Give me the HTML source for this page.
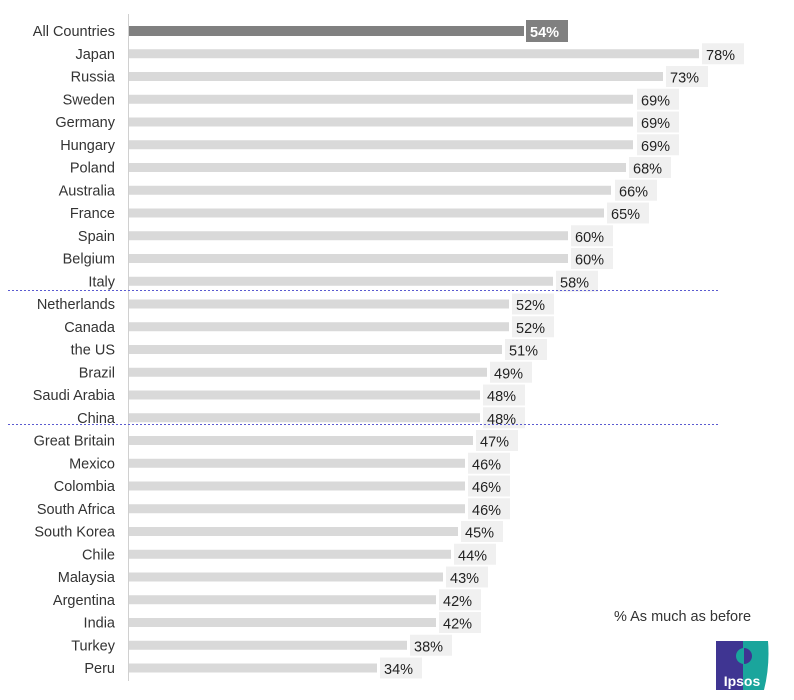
<!DOCTYPE html>
<html><head><meta charset="utf-8"><style>
html,body{margin:0;padding:0;background:#fff;}
svg{display:block;font-family:"Liberation Sans",Arial,sans-serif;}
.l{font-size:14.5px;fill:#333;text-anchor:end}
.v{font-size:14.5px;fill:#222}
.b{fill:#d9d9d9}
.bx{fill:#f0f0f0}
</style></head><body>
<svg width="794" height="700" viewBox="0 0 794 700">
<line x1="128.5" y1="14" x2="128.5" y2="681" stroke="#d0d0d0" stroke-width="1"/>
<g>
<!-- row helper: translate(0,c) -->
<g transform="translate(0,31)"><text class="l" x="115" y="5">All Countries</text><rect x="129" y="-5" width="395" height="10" fill="#808080"/><rect x="526" y="-11" width="42" height="22" fill="#808080"/><text x="530" y="6" style="font-size:14.5px;fill:#fff;font-weight:bold">54%</text></g>
<g transform="translate(0,53.75)"><text class="l" x="115" y="5">Japan</text><rect class="b" x="129" y="-4.5" width="570" height="9"/><rect class="bx" x="702" y="-10.5" width="42" height="21"/><text class="v" x="706" y="6">78%</text></g>
<g transform="translate(0,76.5)"><text class="l" x="115" y="5">Russia</text><rect class="b" x="129" y="-4.5" width="534" height="9"/><rect class="bx" x="666" y="-10.5" width="42" height="21"/><text class="v" x="670" y="6">73%</text></g>
<g transform="translate(0,99.25)"><text class="l" x="115" y="5">Sweden</text><rect class="b" x="129" y="-4.5" width="504" height="9"/><rect class="bx" x="637" y="-10.5" width="42" height="21"/><text class="v" x="641" y="6">69%</text></g>
<g transform="translate(0,122)"><text class="l" x="115" y="5">Germany</text><rect class="b" x="129" y="-4.5" width="504" height="9"/><rect class="bx" x="637" y="-10.5" width="42" height="21"/><text class="v" x="641" y="6">69%</text></g>
<g transform="translate(0,144.75)"><text class="l" x="115" y="5">Hungary</text><rect class="b" x="129" y="-4.5" width="504" height="9"/><rect class="bx" x="637" y="-10.5" width="42" height="21"/><text class="v" x="641" y="6">69%</text></g>
<g transform="translate(0,167.5)"><text class="l" x="115" y="5">Poland</text><rect class="b" x="129" y="-4.5" width="497" height="9"/><rect class="bx" x="629" y="-10.5" width="42" height="21"/><text class="v" x="633" y="6">68%</text></g>
<g transform="translate(0,190.25)"><text class="l" x="115" y="5">Australia</text><rect class="b" x="129" y="-4.5" width="482" height="9"/><rect class="bx" x="615" y="-10.5" width="42" height="21"/><text class="v" x="619" y="6">66%</text></g>
<g transform="translate(0,213)"><text class="l" x="115" y="5">France</text><rect class="b" x="129" y="-4.5" width="475" height="9"/><rect class="bx" x="607" y="-10.5" width="42" height="21"/><text class="v" x="611" y="6">65%</text></g>
<g transform="translate(0,235.75)"><text class="l" x="115" y="5">Spain</text><rect class="b" x="129" y="-4.5" width="439" height="9"/><rect class="bx" x="571" y="-10.5" width="42" height="21"/><text class="v" x="575" y="6">60%</text></g>
<g transform="translate(0,258.5)"><text class="l" x="115" y="5">Belgium</text><rect class="b" x="129" y="-4.5" width="439" height="9"/><rect class="bx" x="571" y="-10.5" width="42" height="21"/><text class="v" x="575" y="6">60%</text></g>
<g transform="translate(0,281.25)"><text class="l" x="115" y="5">Italy</text><rect class="b" x="129" y="-4.5" width="424" height="9"/><rect class="bx" x="556" y="-10.5" width="42" height="21"/><text class="v" x="560" y="6">58%</text></g>
<g transform="translate(0,304)"><text class="l" x="115" y="5">Netherlands</text><rect class="b" x="129" y="-4.5" width="380" height="9"/><rect class="bx" x="512" y="-10.5" width="42" height="21"/><text class="v" x="516" y="6">52%</text></g>
<g transform="translate(0,326.75)"><text class="l" x="115" y="5">Canada</text><rect class="b" x="129" y="-4.5" width="380" height="9"/><rect class="bx" x="512" y="-10.5" width="42" height="21"/><text class="v" x="516" y="6">52%</text></g>
<g transform="translate(0,349.5)"><text class="l" x="115" y="5">the US</text><rect class="b" x="129" y="-4.5" width="373" height="9"/><rect class="bx" x="505" y="-10.5" width="42" height="21"/><text class="v" x="509" y="6">51%</text></g>
<g transform="translate(0,372.25)"><text class="l" x="115" y="5">Brazil</text><rect class="b" x="129" y="-4.5" width="358" height="9"/><rect class="bx" x="490" y="-10.5" width="42" height="21"/><text class="v" x="494" y="6">49%</text></g>
<g transform="translate(0,395)"><text class="l" x="115" y="5">Saudi Arabia</text><rect class="b" x="129" y="-4.5" width="351" height="9"/><rect class="bx" x="483" y="-10.5" width="42" height="21"/><text class="v" x="487" y="6">48%</text></g>
<g transform="translate(0,417.75)"><text class="l" x="115" y="5">China</text><rect class="b" x="129" y="-4.5" width="351" height="9"/><rect class="bx" x="483" y="-10.5" width="42" height="21"/><text class="v" x="487" y="6">48%</text></g>
<g transform="translate(0,440.5)"><text class="l" x="115" y="5">Great Britain</text><rect class="b" x="129" y="-4.5" width="344" height="9"/><rect class="bx" x="476" y="-10.5" width="42" height="21"/><text class="v" x="480" y="6">47%</text></g>
<g transform="translate(0,463.25)"><text class="l" x="115" y="5">Mexico</text><rect class="b" x="129" y="-4.5" width="336" height="9"/><rect class="bx" x="468" y="-10.5" width="42" height="21"/><text class="v" x="472" y="6">46%</text></g>
<g transform="translate(0,486)"><text class="l" x="115" y="5">Colombia</text><rect class="b" x="129" y="-4.5" width="336" height="9"/><rect class="bx" x="468" y="-10.5" width="42" height="21"/><text class="v" x="472" y="6">46%</text></g>
<g transform="translate(0,508.75)"><text class="l" x="115" y="5">South Africa</text><rect class="b" x="129" y="-4.5" width="336" height="9"/><rect class="bx" x="468" y="-10.5" width="42" height="21"/><text class="v" x="472" y="6">46%</text></g>
<g transform="translate(0,531.5)"><text class="l" x="115" y="5">South Korea</text><rect class="b" x="129" y="-4.5" width="329" height="9"/><rect class="bx" x="461" y="-10.5" width="42" height="21"/><text class="v" x="465" y="6">45%</text></g>
<g transform="translate(0,554.25)"><text class="l" x="115" y="5">Chile</text><rect class="b" x="129" y="-4.5" width="322" height="9"/><rect class="bx" x="454" y="-10.5" width="42" height="21"/><text class="v" x="458" y="6">44%</text></g>
<g transform="translate(0,577)"><text class="l" x="115" y="5">Malaysia</text><rect class="b" x="129" y="-4.5" width="314" height="9"/><rect class="bx" x="446" y="-10.5" width="42" height="21"/><text class="v" x="450" y="6">43%</text></g>
<g transform="translate(0,599.75)"><text class="l" x="115" y="5">Argentina</text><rect class="b" x="129" y="-4.5" width="307" height="9"/><rect class="bx" x="439" y="-10.5" width="42" height="21"/><text class="v" x="443" y="6">42%</text></g>
<g transform="translate(0,622.5)"><text class="l" x="115" y="5">India</text><rect class="b" x="129" y="-4.5" width="307" height="9"/><rect class="bx" x="439" y="-10.5" width="42" height="21"/><text class="v" x="443" y="6">42%</text></g>
<g transform="translate(0,645.25)"><text class="l" x="115" y="5">Turkey</text><rect class="b" x="129" y="-4.5" width="278" height="9"/><rect class="bx" x="410" y="-10.5" width="42" height="21"/><text class="v" x="414" y="6">38%</text></g>
<g transform="translate(0,668)"><text class="l" x="115" y="5">Peru</text><rect class="b" x="129" y="-4.5" width="248" height="9"/><rect class="bx" x="380" y="-10.5" width="42" height="21"/><text class="v" x="384" y="6">34%</text></g>
</g>
<line x1="8" y1="290.5" x2="718" y2="290.5" stroke="#5a5ad0" stroke-width="1" stroke-dasharray="2,2"/>
<line x1="8" y1="424.5" x2="718" y2="424.5" stroke="#5a5ad0" stroke-width="1" stroke-dasharray="2,2"/>
<text x="614" y="621" style="font-size:14.5px;fill:#333">% As much as before</text>
<g>
<rect x="716" y="641" width="27" height="49" fill="#3f3592"/>
<path d="M743 641 H768 Q770 666 764 690 H743 Z" fill="#1aa59c"/>
<circle cx="744" cy="656" r="8" fill="#1aa59c"/>
<path d="M744 648 a8 8 0 0 1 0 16 Z" fill="#3f3592"/>
<text x="742" y="686" style="font-size:14px;fill:#fff;font-weight:bold;text-anchor:middle">Ipsos</text>
</g>
</svg>
</body></html>
